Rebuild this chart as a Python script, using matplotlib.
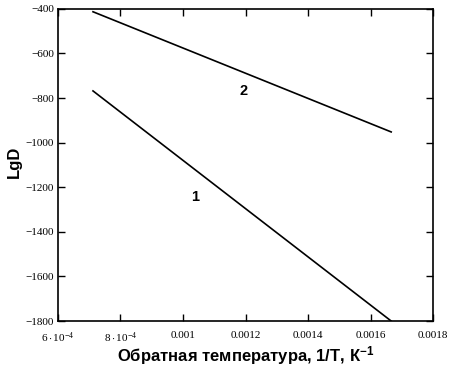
import numpy as np
import matplotlib
matplotlib.use("Agg")
import matplotlib.pyplot as plt
from matplotlib.ticker import FixedLocator, FixedFormatter

plt.rcParams['mathtext.fontset'] = 'custom'
plt.rcParams['mathtext.rm'] = 'Liberation Serif'
plt.rcParams['mathtext.it'] = 'Liberation Serif:italic'
plt.rcParams['mathtext.bf'] = 'Liberation Sans:bold'

# данные: обратная температура и LgD
inv_t_1 = [0.000712, 0.001666]
lgd_1 = [-768, -1800]
inv_t_2 = [0.000712, 0.001666]
lgd_2 = [-413, -952]

x_ticks = [0.0006, 0.0008, 0.0010, 0.0012, 0.0014, 0.0016, 0.0018]
x_labels = [r'$6\cdot10^{-4}$', r'$8\cdot10^{-4}$', '0.001', '0.0012', '0.0014', '0.0016', '0.0018']
y_ticks = [-400, -600, -800, -1000, -1200, -1400, -1600, -1800]
y_labels = ['\u2212' + str(-v) for v in y_ticks]

fig = plt.figure(figsize=(4.53, 3.69), dpi=100)
ax = fig.add_axes([0.128, 0.130, 0.828, 0.846])

ax.plot(inv_t_1, lgd_1, color='black', lw=1.2)
ax.plot(inv_t_2, lgd_2, color='black', lw=1.2)

ax.text(0.001038, -1244, '1', fontsize=10.5, fontweight='bold', family='Liberation Sans',
        ha='center', va='center')
ax.text(0.001195, -768, '2', fontsize=10.5, fontweight='bold', family='Liberation Sans',
        ha='center', va='center')

ax.set_xlim(0.0006, 0.0018)
ax.set_ylim(-1800, -400)
ax.xaxis.set_major_locator(FixedLocator(x_ticks))
ax.xaxis.set_major_formatter(FixedFormatter(x_labels))
ax.yaxis.set_major_locator(FixedLocator(y_ticks))
ax.yaxis.set_major_formatter(FixedFormatter(y_labels))
ax.tick_params(direction='in', length=5, width=1, top=True, right=True,
               labelsize=8, pad=3)
ax.tick_params(axis='x', pad=7)
for lab in ax.get_xticklabels() + ax.get_yticklabels():
    lab.set_fontfamily('Liberation Serif')
for s in ax.spines.values():
    s.set_linewidth(1.2)

ax.set_xlabel('Обратная температура, 1/T, К$\\mathbf{^{-1}}$', fontsize=12,
              fontweight='bold', family='Liberation Sans', labelpad=-1)
ax.set_ylabel('LgD', fontsize=12, fontweight='bold', family='Liberation Sans')
ax.yaxis.set_label_coords(-0.095, 0.51)

fig.savefig('out.png', dpi=100)
